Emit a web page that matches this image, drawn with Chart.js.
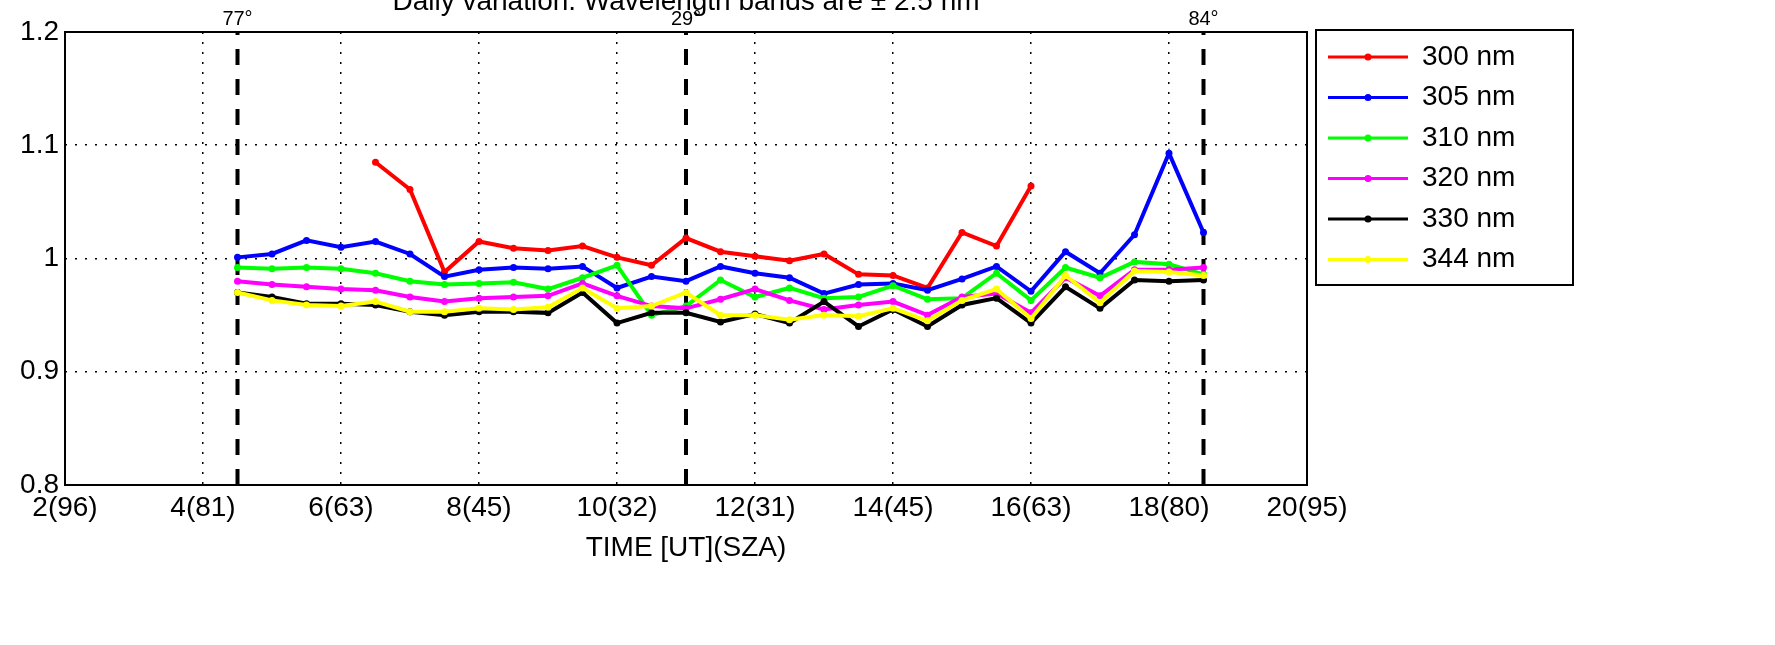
<!DOCTYPE html>
<html><head><meta charset="utf-8">
<script src="https://cdn.jsdelivr.net/npm/chart.js@4"></script>
<style>html,body{margin:0;padding:0;background:#fff}#c{display:block}</style>
</head><body>
<canvas id="c" width="1775" height="645"></canvas>
<script>
// half-hour steps, 4.5 .. 18.5 UT
const hours = [4.5,5,5.5,6,6.5,7,7.5,8,8.5,9,9.5,10,10.5,11,11.5,12,12.5,13,13.5,14,14.5,15,15.5,16,16.5,17,17.5,18,18.5];
const tickLabels = {2:'2(96)',4:'4(81)',6:'6(63)',8:'8(45)',10:'10(32)',12:'12(31)',14:'14(45)',16:'16(63)',18:'18(80)',20:'20(95)'};
const markerHours = [4.5, 11, 18.5];
const markerLabels = ['77°', '29°', '84°'];

const nm300 = [null,null,null,null,1.085,1.061,0.988,1.015,1.009,1.007,1.011,1.001,0.994,1.018,1.006,1.002,0.998,1.004,0.986,0.985,0.974,1.023,1.011,1.064,null,null,null,null,null];
const nm305 = [1.001,1.004,1.016,1.010,1.015,1.004,0.984,0.990,0.992,0.991,0.993,0.974,0.984,0.980,0.993,0.987,0.983,0.969,0.977,0.978,0.972,0.982,0.993,0.971,1.006,0.987,1.021,1.093,1.023];
const nm310 = [0.992,0.991,0.992,0.991,0.987,0.980,0.977,0.978,0.979,0.973,0.983,0.994,0.950,0.958,0.981,0.966,0.974,0.965,0.966,0.976,0.964,0.965,0.987,0.963,0.992,0.983,0.997,0.995,0.986];
const nm320 = [0.980,0.977,0.975,0.973,0.972,0.966,0.962,0.965,0.966,0.967,0.978,0.967,0.958,0.956,0.964,0.973,0.963,0.955,0.959,0.962,0.950,0.966,0.969,0.952,0.983,0.967,0.990,0.990,0.992];
const nm330 = [0.970,0.966,0.960,0.960,0.959,0.953,0.950,0.953,0.953,0.952,0.970,0.943,0.952,0.952,0.944,0.951,0.943,0.962,0.940,0.955,0.940,0.959,0.965,0.943,0.975,0.956,0.981,0.980,0.981];
const nm344 = [0.970,0.963,0.959,0.958,0.962,0.953,0.953,0.956,0.955,0.957,0.974,0.956,0.958,0.970,0.950,0.950,0.946,0.950,0.949,0.956,0.945,0.963,0.973,0.947,0.985,0.961,0.989,0.988,0.985];

const seriesNames = ['300 nm','305 nm','310 nm','320 nm','330 nm','344 nm'];
const seriesColors = ['#ff0000','#0000ff','#00ff00','#ff00ff','#000000','#ffff00'];
const seriesValues = [nm300, nm305, nm310, nm320, nm330, nm344];

const toPoints = vals => hours.map((h, i) => ({x: h, y: vals[i]}));

const lineSets = seriesValues.map((vals, i) => ({
  label: seriesNames[i], data: toPoints(vals),
  borderColor: seriesColors[i], backgroundColor: seriesColors[i],
  borderWidth: 4, pointRadius: 3.5, pointBorderWidth: 0, spanGaps: false, order: 6 - i
}));
const markerSets = markerHours.map(h => ({
  label: '', data: [{x: h, y: 0.8}, {x: h, y: 1.2}],
  borderColor: '#000', borderWidth: 4, borderDash: [16, 14], pointRadius: 0, order: 10
}));

const FONT = 'Helvetica, "Liberation Sans", Arial, sans-serif';

const extras = {
  id: 'extras',
  afterDraw(chart) {
    const {ctx, chartArea: a, scales: {x, y}} = chart;
    ctx.save();
    ctx.strokeStyle = '#000'; ctx.lineWidth = 2;
    ctx.strokeRect(a.left, a.top, a.right - a.left, a.bottom - a.top);
    ctx.fillStyle = '#000';
    ctx.font = '20px ' + FONT; ctx.textAlign = 'center'; ctx.textBaseline = 'bottom';
    markerHours.forEach((h, i) => ctx.fillText(markerLabels[i], x.getPixelForValue(h), a.top - 3));
    ctx.font = '28px ' + FONT; ctx.textBaseline = 'middle';
    ctx.fillText('Daily variation. Wavelength bands are ± 2.5 nm', (a.left + a.right) / 2, 2);
    ctx.fillText('TIME [UT](SZA)', (a.left + a.right) / 2, 548);
    // legend
    const lx = 1316, ly = 30, lw = 257, lh = 255;
    ctx.fillStyle = '#fff'; ctx.fillRect(lx, ly, lw, lh);
    ctx.strokeRect(lx, ly, lw, lh);
    ctx.textAlign = 'left';
    seriesNames.forEach((n, i) => {
      const yy = ly + 27 + i * 40.5;
      ctx.strokeStyle = seriesColors[i]; ctx.lineWidth = 3;
      ctx.beginPath(); ctx.moveTo(lx + 12, yy); ctx.lineTo(lx + 92, yy); ctx.stroke();
      ctx.fillStyle = seriesColors[i];
      ctx.beginPath(); ctx.arc(lx + 52, yy, 3.5, 0, Math.PI * 2); ctx.fill();
      ctx.fillStyle = '#000'; ctx.fillText(n, lx + 106, yy);
    });
    ctx.restore();
  }
};

new Chart(document.getElementById('c'), {
  type: 'line',
  data: {datasets: [...lineSets, ...markerSets]},
  options: {
    responsive: false, animation: false,
    layout: {padding: {top: 32, right: 468, left: 0, bottom: 0}},
    plugins: {legend: {display: false}, tooltip: {enabled: false}},
    scales: {
      x: {
        type: 'linear', min: 2, max: 20,
        afterFit: s => { s.height = 160; },
        afterBuildTicks: s => { s.ticks = Object.keys(tickLabels).map(v => ({value: +v})); },
        ticks: {callback: v => tickLabels[v] || '', color: '#000', font: {size: 28, family: FONT}, maxRotation: 0, autoSkip: false, padding: 6},
        grid: {color: '#000', lineWidth: 1.5, tickLength: 0},
        border: {display: false, dash: [2, 8]}
      },
      y: {
        min: 0.8, max: 1.2,
        afterFit: s => { s.width = 65; },
        ticks: {stepSize: 0.1, callback: v => String(Math.round(v * 10) / 10), color: '#000', font: {size: 28, family: FONT}, padding: 6},
        grid: {color: '#000', lineWidth: 1.5, tickLength: 0},
        border: {display: false, dash: [2, 8]}
      }
    }
  },
  plugins: [extras]
});
</script>
</body></html>
